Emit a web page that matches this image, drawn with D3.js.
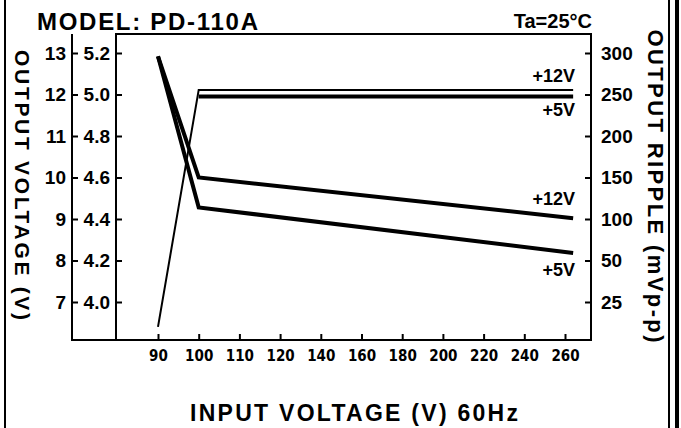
<!DOCTYPE html>
<html>
<head>
<meta charset="utf-8">
<script src="https://cdn.jsdelivr.net/npm/d3@7"></script>
<style>
  body { margin: 0; background: #fff; }
  svg { display: block; }
  text { fill: #000; font-family: "Liberation Sans", Arial, sans-serif; font-weight: bold; }
  .xaxis text { font-family: "Liberation Sans Narrow", "DejaVu Sans Condensed", sans-serif; }
</style>
</head>
<body>
<div id="chart"></div>
<script>
// tick labels (axes are not linear, ticks are evenly spaced)
const inputTicks = [90, 100, 110, 120, 140, 160, 180, 200, 220, 240, 260];
const volt12Ticks = [13, 12, 11, 10, 9, 8, 7];
const volt5Ticks = [5.2, 5.0, 4.8, 4.6, 4.4, 4.2, 4.0];
const rippleTicks = [300, 250, 200, 150, 100, 50, 25];

// output voltage
const volt12Input = [90, 100, 264];
const volt12Values = [6.4, 12.11, 12.11];
const volt5Input = [100, 264];
const volt5Values = [4.99, 4.99];

// output ripple
const rippleInput = [90, 100, 264];
const ripple12Values = [296, 150, 101];
const ripple5Values = [296, 114, 59];

const width = 681, height = 428;
const plot = {left: 116, right: 591, top: 34, bottom: 340};
const outerAxisX = 72;

const svg = d3.select('#chart').append('svg')
  .attr('width', width)
  .attr('height', height);

// scales
const xStart = 158, xStep = 40.7;
const x = d3.scaleLinear()
  .domain(inputTicks)
  .range(inputTicks.map((d, i) => xStart + i * xStep));

const yStart = 53, yStep = 41.5;
const yPos = rippleTicks.map((d, i) => yStart + i * yStep);
const yRipple = d3.scaleLinear().domain(rippleTicks).range(yPos);
const y12 = d3.scaleLinear().domain([13, 7]).range([yPos[0], yPos[6]]);
const y5 = d3.scaleLinear().domain([5.2, 4.0]).range([yPos[0], yPos[6]]);

// outer border
svg.append('line').attr('x1', 5).attr('x2', 5).attr('y1', 0).attr('y2', height)
  .attr('stroke', '#000').attr('stroke-width', 2);
svg.append('line').attr('x1', 669).attr('x2', 669).attr('y1', 0).attr('y2', height)
  .attr('stroke', '#000').attr('stroke-width', 2);
svg.append('line').attr('x1', 677).attr('x2', 677).attr('y1', 0).attr('y2', height)
  .attr('stroke', '#000').attr('stroke-width', 4);

// frame
svg.append('path')
  .attr('d', `M${outerAxisX},${plot.top}V${plot.bottom}H${plot.right}V${plot.top}H${plot.left}V${plot.bottom}`)
  .attr('fill', 'none')
  .attr('stroke', '#000')
  .attr('stroke-width', 2);

// x axis
const xAxis = d3.axisBottom(x).tickValues(inputTicks).tickSizeInner(-6).tickSizeOuter(0).tickPadding(10);
svg.append('g')
  .attr('class', 'xaxis')
  .attr('transform', `translate(0,${plot.bottom})`)
  .call(xAxis)
  .call(g => g.select('.domain').remove())
  .call(g => g.selectAll('line').attr('stroke-width', 2))
  .call(g => g.selectAll('text').attr('font-size', 15));

// left axes
svg.append('g')
  .attr('transform', `translate(${outerAxisX},0)`)
  .call(d3.axisLeft(y12).tickValues(volt12Ticks).tickFormat(d3.format('d')).tickSizeInner(-6).tickSizeOuter(0).tickPadding(6))
  .call(g => g.select('.domain').remove())
  .call(g => g.selectAll('line').attr('stroke-width', 2))
  .call(g => g.selectAll('text').attr('font-size', 19));

svg.append('g')
  .attr('transform', `translate(${plot.left},0)`)
  .call(d3.axisLeft(y5).tickValues(volt5Ticks).tickFormat(d3.format('.1f')).tickSizeInner(-6).tickSizeOuter(0).tickPadding(6))
  .call(g => g.select('.domain').remove())
  .call(g => g.selectAll('line').attr('stroke-width', 2))
  .call(g => g.selectAll('text').attr('font-size', 19));

// right axis
svg.append('g')
  .attr('transform', `translate(${plot.right},0)`)
  .call(d3.axisRight(yRipple).tickValues(rippleTicks).tickSizeInner(-6).tickSizeOuter(0).tickPadding(10))
  .call(g => g.select('.domain').remove())
  .call(g => g.selectAll('line').attr('stroke-width', 2))
  .call(g => g.selectAll('text').attr('font-size', 19));

// lines
const line = (ys) => d3.line().x(d => x(d[0])).y(d => ys(d[1]));
const series = [
  {input: volt12Input, values: volt12Values, scale: y12, w: 2},
  {input: volt5Input, values: volt5Values, scale: y5, w: 4},
  {input: rippleInput, values: ripple12Values, scale: yRipple, w: 4},
  {input: rippleInput, values: ripple5Values, scale: yRipple, w: 4}
];
series.forEach(s => {
  svg.append('path')
    .datum(d3.zip(s.input, s.values))
    .attr('fill', 'none')
    .attr('stroke', '#000')
    .attr('stroke-width', s.w)
    .attr('stroke-linejoin', 'miter')
    .attr('d', line(s.scale));
});

// series labels
const labelX = x(264) + 2;
const lastOf = a => a[a.length - 1];
const addLabel = (txt, y) => svg.append('text')
  .attr('x', labelX).attr('y', y)
  .attr('text-anchor', 'end')
  .attr('font-size', 18)
  .text(txt);
addLabel('+12V', y12(lastOf(volt12Values)) - 8);
addLabel('+5V', y5(lastOf(volt5Values)) + 19);
addLabel('+12V', yRipple(lastOf(ripple12Values)) - 13);
addLabel('+5V', yRipple(lastOf(ripple5Values)) + 23);

// titles
svg.append('text')
  .attr('x', 37).attr('y', 30)
  .attr('font-size', 24)
  .attr('textLength', 221)
  .text('MODEL: PD-110A');

svg.append('text')
  .attr('x', plot.right + 1).attr('y', 28)
  .attr('text-anchor', 'end')
  .attr('font-size', 20)
  .text('Ta=25°C');

svg.append('text')
  .attr('transform', 'translate(22,185) rotate(90)')
  .attr('text-anchor', 'middle')
  .attr('dominant-baseline', 'central')
  .attr('font-size', 21)
  .attr('textLength', 270)
  .text('OUTPUT VOLTAGE (V)');

svg.append('text')
  .attr('transform', 'translate(655,186) rotate(90)')
  .attr('text-anchor', 'middle')
  .attr('dominant-baseline', 'central')
  .attr('font-size', 22)
  .attr('textLength', 313)
  .text('OUTPUT RIPPLE (mVp-p)');

svg.append('text')
  .attr('x', 354).attr('y', 421)
  .attr('text-anchor', 'middle')
  .attr('font-size', 23)
  .attr('font-weight', 'normal')
  .attr('textLength', 328)
  .text('INPUT VOLTAGE (V) 60Hz');
</script>
</body>
</html>
